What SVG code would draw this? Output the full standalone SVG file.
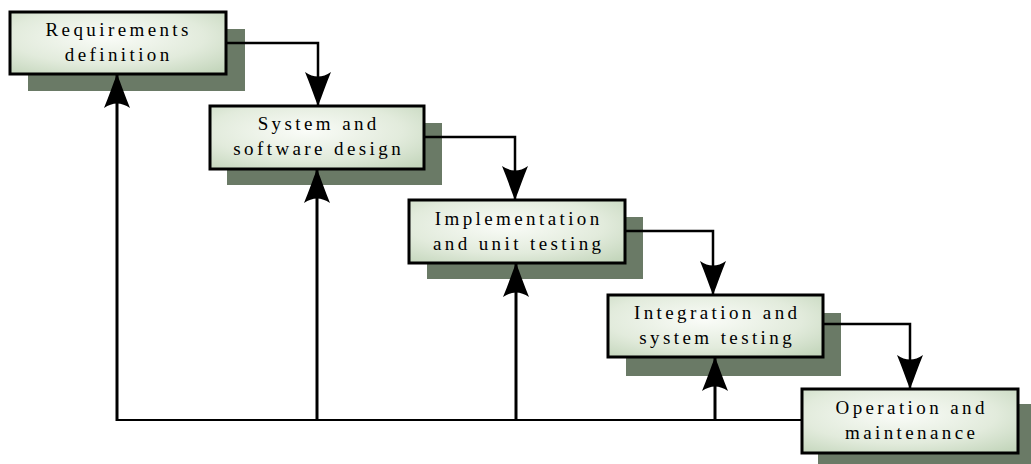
<svg xmlns="http://www.w3.org/2000/svg" width="1031" height="464" viewBox="0 0 1031 464">
<defs>
<radialGradient id="g" cx="0.45" cy="0.4" r="0.75">
<stop offset="0" stop-color="#fafcf8"/>
<stop offset="0.6" stop-color="#e2ebdc"/>
<stop offset="1" stop-color="#c4d6bc"/>
</radialGradient>
<marker id="ah" markerUnits="userSpaceOnUse" viewBox="-36 -15 38 30" markerWidth="38" markerHeight="30" refX="0" refY="0" orient="auto">
<path d="M0,0 C-10,-4 -22,-8 -34,-13 Q-25,0 -34,13 C-22,8 -10,4 0,0 Z" fill="#000"/>
</marker>
<style>
.shadow{fill:#6a7a66}
.box{fill:url(#g);stroke:#000;stroke-width:3}
.t{font-family:"Liberation Serif","Times New Roman",serif;font-size:19px;letter-spacing:3.4px;text-anchor:middle;fill:#000}
.c{fill:none;stroke:#000;stroke-width:2.5}
.f{fill:none;stroke:#000;stroke-width:3}
.h{fill:none;stroke:#000;stroke-width:2}
</style>
</defs>
<rect width="1031" height="464" fill="#fff"/>
<g id="n1">
<rect class="shadow" x="28" y="29" width="217" height="62"/>
<rect class="box" x="10" y="12" width="216" height="62"/>
<text class="t" x="118.7" y="36">Requirements</text>
<text class="t" x="118.7" y="61">definition</text>
</g>
<g id="n2">
<rect class="shadow" x="227" y="123" width="215" height="62"/>
<rect class="box" x="210" y="106" width="214" height="63"/>
<text class="t" x="318.7" y="130">System and</text>
<text class="t" x="318.7" y="155">software design</text>
</g>
<g id="n3">
<rect class="shadow" x="427" y="217" width="216" height="62"/>
<rect class="box" x="409" y="200" width="216" height="63"/>
<text class="t" x="518.7" y="225">Implementation</text>
<text class="t" x="518.7" y="250">and unit testing</text>
</g>
<g id="n4">
<rect class="shadow" x="626" y="313" width="215" height="63"/>
<rect class="box" x="608" y="295" width="215" height="62"/>
<text class="t" x="717.2" y="319">Integration and</text>
<text class="t" x="717.2" y="344">system testing</text>
</g>
<g id="n5">
<rect class="shadow" x="818" y="404" width="216" height="64"/>
<rect class="box" x="802" y="389" width="216" height="64"/>
<text class="t" x="911.7" y="414">Operation and</text>
<text class="t" x="911.7" y="439">maintenance</text>
</g>
<g id="connectors">
<path class="c" d="M226,43 H318 V106" marker-end="url(#ah)"/>
<path class="c" d="M424,137 H515 V200" marker-end="url(#ah)"/>
<path class="c" d="M625,231 H713 V295" marker-end="url(#ah)"/>
<path class="c" d="M823,324 H910 V389" marker-end="url(#ah)"/>
<path class="h" d="M802,420 H117"/>
<path class="f" d="M117,421 V74" marker-end="url(#ah)"/>
<path class="f" d="M317,421 V169" marker-end="url(#ah)"/>
<path class="f" d="M516,421 V263" marker-end="url(#ah)"/>
<path class="f" d="M715,421 V357" marker-end="url(#ah)"/>
</g>
</svg>
